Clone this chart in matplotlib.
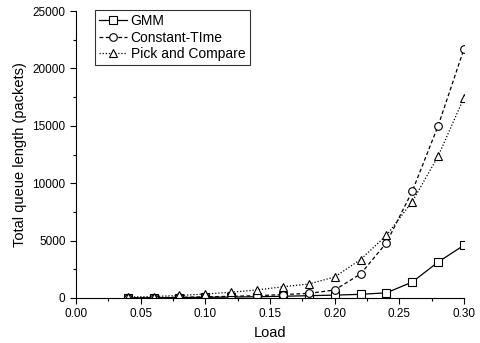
import numpy as np
import matplotlib
matplotlib.use("Agg")
from matplotlib import pyplot as plt
from matplotlib.ticker import MultipleLocator

plt.rcParams['font.family'] = ['Liberation Sans', 'DejaVu Sans']

# data
load = [0.04, 0.06, 0.08, 0.10, 0.12, 0.14, 0.16, 0.18, 0.20, 0.22, 0.24, 0.26, 0.28, 0.30]
gmm = [10, 20, 40, 60, 80, 110, 150, 200, 250, 320, 450, 1390, 3130, 4600]
const_time = [20, 30, 60, 100, 150, 200, 300, 400, 700, 2090, 4800, 9300, 15000, 21700]
pick_compare = [80, 130, 220, 350, 500, 700, 980, 1220, 1830, 3350, 5450, 8400, 12350, 17450]

fig = plt.figure(figsize=(4.81, 3.43), dpi=100)
ax = fig.add_axes([76 / 481, 1 - 298 / 343, 388 / 481, 287 / 343])

mk = dict(markerfacecolor='white', markeredgecolor='black', markersize=5.5,
          markeredgewidth=0.8, color='black', linewidth=0.9)
ax.plot(load, gmm, 's-', label="GMM", **mk)
ax.plot(load, const_time, 'o', linestyle=(0, (3, 2)), label="Constant-TIme", **mk)
ax.plot(load, pick_compare, '^', linestyle=(0, (1, 1.5)), label="Pick and Compare", **mk)

ax.set_xlim(0, 0.30)
ax.set_ylim(0, 25000)
ax.xaxis.set_major_locator(MultipleLocator(0.05))
ax.xaxis.set_minor_locator(MultipleLocator(0.025))
ax.yaxis.set_major_locator(MultipleLocator(5000))
ax.yaxis.set_minor_locator(MultipleLocator(2500))
ax.xaxis.set_major_formatter(matplotlib.ticker.FormatStrFormatter('%.2f'))

ax.spines['top'].set_visible(False)
ax.spines['right'].set_visible(False)
ax.tick_params(which='major', direction='out', length=4, width=0.8, labelsize=8.5)
ax.tick_params(which='minor', direction='out', length=2.5, width=0.8)

ax.set_xlabel("Load", fontsize=10.5)
ax.set_ylabel("Total queue length (packets)", fontsize=10.5)

leg = ax.legend(loc='upper left', bbox_to_anchor=(0.048, 1.005), fontsize=10,
                frameon=True, fancybox=False, edgecolor='black',
                handlelength=2.0, handletextpad=0.3, borderpad=0.3,
                labelspacing=0.2, borderaxespad=0.0)
leg.get_frame().set_linewidth(0.8)

fig.savefig("out.png", dpi=100)
